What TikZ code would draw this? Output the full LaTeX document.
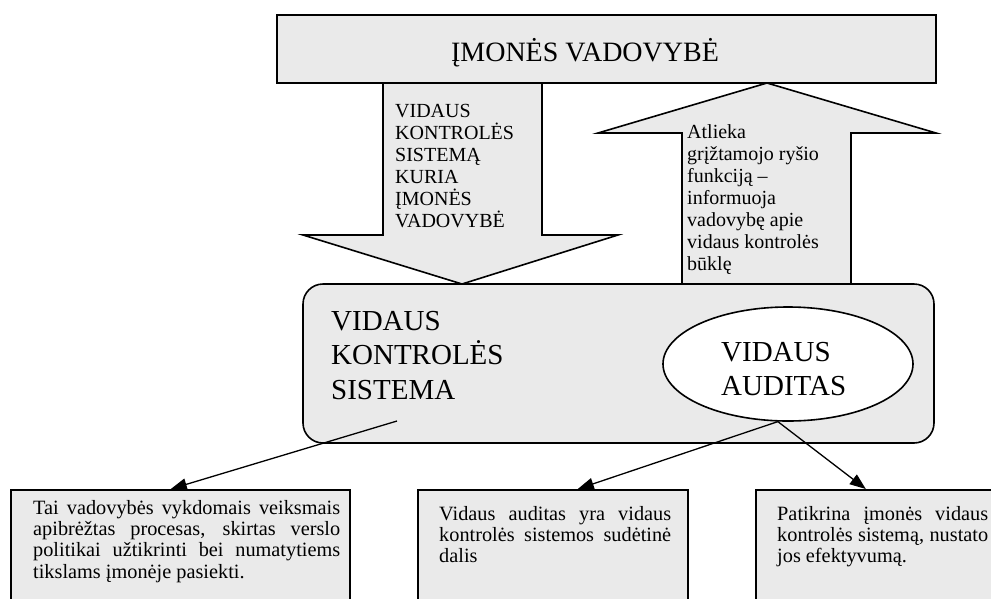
\documentclass[tikz,border=0pt]{standalone}
\usepackage{fontspec}
\setmainfont{Liberation Serif}
\usetikzlibrary{positioning,arrows.meta,shapes.geometric}
\definecolor{boxgray}{RGB}{234,234,234}

\begin{document}
\begin{tikzpicture}[x=1pt,y=-1pt,
    panel/.style={draw,line width=1.6pt,fill=boxgray},
    big/.style={font=\fontsize{29}{34.5}\selectfont,align=left,inner sep=0pt,anchor=north west},
    small/.style={font=\fontsize{20}{22}\selectfont,align=left,inner sep=0pt,anchor=north west},
    para/.style={font=\fontsize{20.3}{21.3}\selectfont,align=justify,inner sep=0pt,anchor=north west},
    conn/.style={line width=1.3pt,-{Triangle[length=16pt,width=12pt]}}]
  \useasboundingbox (0,0) rectangle (991,598);
  \clip (0,0) rectangle (991,598);
  % block arrows
  \draw[panel] (383,83) -- (383,235) -- (303,235) -- (462,284) -- (618,235) -- (542,235) -- (542,83) -- cycle;
  \draw[panel] (682,284) -- (682,133) -- (598,133) -- (767,83) -- (936,133) -- (851,133) -- (851,284) -- cycle;
  \node[panel,minimum width=659pt,minimum height=68pt] (vadovybe) at (606.5,49) {};
  \node[font=\fontsize{28}{32}\selectfont,anchor=base,inner sep=0pt] (vadovybetxt) at (585,61) {ĮMONĖS VADOVYBĖ};
  \node[small] (kuria) at (395,104) {VIDAUS\\KONTROLĖS\\SISTEMĄ\\KURIA\\ĮMONĖS\\VADOVYBĖ};
  \node[small] (grizt) at (687,124) {Atlieka\\grįžtamojo ryšio\\funkciją –\\informuoja\\vadovybę apie\\vidaus kontrolės\\būklę};
  % system box with the audit ellipse
  \node[panel,rounded corners=20pt,minimum width=631pt,minimum height=159pt] (sistema) at (618.5,363.5) {};
  \node[big] (sistematxt) at (331,311) {VIDAUS\\KONTROLĖS\\SISTEMA};
  \node[ellipse,draw,line width=1.6pt,fill=white,minimum width=250pt,minimum height=114pt] (auditas) at (788,364) {};
  \node[big] (auditastxt) at (721,342) {VIDAUS\\AUDITAS};
  \coordinate (sisout) at (397,421);
  % description boxes
  \node[panel,minimum width=339pt,minimum height=140pt,anchor=north west] (tikslai) at (10,489) {};
  \node[panel,minimum width=270pt,minimum height=140pt,anchor=north west] (dalis) at (417,489) {};
  \node[panel,minimum width=260pt,minimum height=140pt,anchor=north west] (efekt) at (755,489) {};
  \node[para,text width=307pt] (tikslaitxt) at (33,500) {Tai vadovybės vykdomais veiksmais\linebreak apibrėžtas procesas, skirtas verslo\linebreak politikai užtikrinti bei numatytiems\linebreak tikslams įmonėje pasiekti.};
  \node[para,text width=232pt] (dalistxt) at (439,506) {Vidaus auditas yra vidaus\linebreak kontrolės sistemos sudėtinė\linebreak dalis};
  \node[para,text width=211pt] (efekttxt) at (777,506) {Patikrina įmonės vidaus\linebreak kontrolės sistemą, nustato\linebreak jos efektyvumą.};
  \draw[conn] (sisout) -- ([xshift=-9.5pt]tikslai.north);
  \draw[conn] (auditas.260) -- ([xshift=25pt]dalis.north);
  \draw[conn] (auditas.260) -- ([xshift=-20pt]efekt.north);
\end{tikzpicture}
\end{document}
